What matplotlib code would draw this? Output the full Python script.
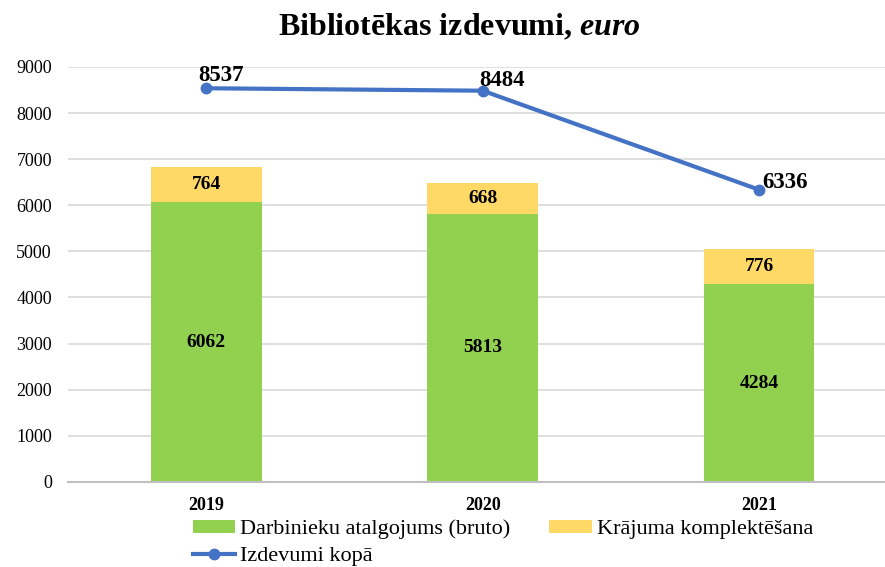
import matplotlib.pyplot as plt
import numpy as np

# data
years = ["2019", "2020", "2021"]
salaries = [6062, 5813, 4284]
collection = [764, 668, 776]
total = [8537, 8484, 6336]

green = "#92D050"
yellow = "#FFD966"
blue = "#4472C4"

plt.rcParams['font.family'] = ['Liberation Serif', 'DejaVu Serif']
plt.rcParams['mathtext.fontset'] = 'custom'
plt.rcParams['mathtext.it'] = 'Liberation Serif:italic:bold'
plt.rcParams['mathtext.rm'] = 'Liberation Serif:bold'

fig = plt.figure(figsize=(8.85, 5.67), dpi=100)
ax = fig.add_axes([0.0768, 0.15, 0.9232, 0.732])

x = np.arange(len(years))
w = 0.4
b1 = ax.bar(x, salaries, w, color=green, label="Darbinieku atalgojums (bruto)", zorder=2)
b2 = ax.bar(x, collection, w, bottom=salaries, color=yellow, label="Krājuma komplektēšana", zorder=2)
ln, = ax.plot(x, total, color=blue, lw=3, marker="o", ms=7.5, label="Izdevumi kopā", zorder=3)

# labels inside bars
for xi, s, c in zip(x, salaries, collection):
    ax.text(xi, s / 2, str(s), ha="center", va="center", fontsize=14, fontweight="bold")
    ax.text(xi, s + c / 2, str(c), ha="center", va="center", fontsize=14, fontweight="bold")

# line labels
offsets = [(11, 9), (14, 7.5), (18.5, 5.5)]
for xi, t, off in zip(x, total, offsets):
    ax.annotate(str(t), (xi, t), xytext=off, textcoords="offset points",
                ha="center", va="center", fontsize=16.5, fontweight="bold")

ax.set_xlim(-0.5, 2.455)
ax.set_ylim(0, 9000)
ax.set_yticks(range(0, 9001, 1000))
ax.set_xticks(x)
ax.set_xticklabels(years, fontweight="bold", fontsize=13)
ax.tick_params(axis="y", labelsize=13, length=0, pad=11.5)
ax.tick_params(axis="x", length=0, pad=11)
ax.grid(axis="y", color="#D9D9D9", lw=1.2, zorder=0)
for sp in ["top", "right", "left"]:
    ax.spines[sp].set_visible(False)
ax.spines["bottom"].set_color("#BFBFBF")
ax.spines["bottom"].set_linewidth(1.5)

fig.text(0.519, 0.951, "Bibliotēkas izdevumi, $\\it{euro}$", ha="center", va="center",
         fontsize=23, fontweight="bold")

fig.legend([b1, ln, b2], [b1.get_label(), ln.get_label(), b2.get_label()],
           ncol=2, loc="upper left", bbox_to_anchor=(0.218, 0.084), frameon=False,
           fontsize=16, handlelength=1.9, handleheight=0.5, columnspacing=1.75,
           handletextpad=0.23, labelspacing=0.36, borderpad=0, borderaxespad=0)

fig.savefig("out.png", dpi=100)
